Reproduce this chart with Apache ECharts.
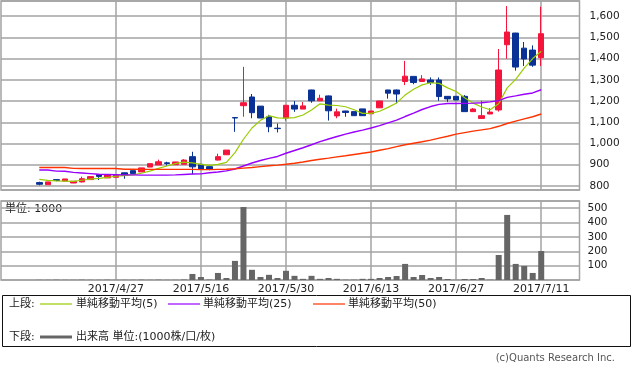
<!DOCTYPE html>
<html><head><meta charset="utf-8">
<script src="https://cdn.jsdelivr.net/npm/echarts@6/dist/echarts.min.js"></script>
<style>html,body{margin:0;padding:0;background:#fff}#c{width:633px;height:370px}</style>
</head><body><div id="c"></div>
<script>
// ---- data ----
const dates = ['2017/4/14','2017/4/17','2017/4/18','2017/4/19','2017/4/20','2017/4/21','2017/4/24','2017/4/25','2017/4/26','2017/4/27',
 '2017/4/28','2017/5/1','2017/5/2','2017/5/8','2017/5/9','2017/5/10','2017/5/11','2017/5/12','2017/5/15','2017/5/16',
 '2017/5/17','2017/5/18','2017/5/19','2017/5/22','2017/5/23','2017/5/24','2017/5/25','2017/5/26','2017/5/29','2017/5/30',
 '2017/5/31','2017/6/1','2017/6/2','2017/6/5','2017/6/6','2017/6/7','2017/6/8','2017/6/9','2017/6/12','2017/6/13',
 '2017/6/14','2017/6/15','2017/6/16','2017/6/19','2017/6/20','2017/6/21','2017/6/22','2017/6/23','2017/6/26','2017/6/27',
 '2017/6/28','2017/6/29','2017/6/30','2017/7/3','2017/7/4','2017/7/5','2017/7/6','2017/7/7','2017/7/10','2017/7/11'];
const padBefore = ['2017/4/10','2017/4/11','2017/4/12','2017/4/13'];
const padAfter = ['2017/7/12','2017/7/13','2017/7/14','2017/7/18'];
const tickDates = ['2017/4/27','2017/5/16','2017/5/30','2017/6/13','2017/6/27','2017/7/11'];

const openP  = [816,806,830,823,814,819,830,853,838,841, 862,872,866,889,899,909,900,902,938,902,
                891,922,947,1122,1178,1219,1176,1126,1072,1120, 1180,1162,1252,1201,1224,1130,1153,1150,1163,1140,
                1168,1252,1252,1292,1316,1292,1299,1299,1222,1222, 1222,1150,1118,1139,1158,1465,1520,1449,1440,1404];
const closeP = [808,819,826,833,822,834,844,845,853,852, 851,858,885,905,914,906,913,922,890,880,
                879,938,969,1120,1192,1145,1120,1079,1070,1180, 1162,1177,1201,1213,1154,1149,1146,1131,1131,1153,
                1200,1237,1233,1317,1287,1304,1287,1221,1210,1205, 1150,1162,1131,1148,1346,1525,1360,1398,1369,1517];
const lowP   = [803,806,822,822,813,817,830,828,838,841, 834,858,866,889,899,896,900,902,855,878,
                874,920,947,1055,1126,1119,1120,1053,1052,1108, 1149,1162,1192,1200,1108,1119,1126,1131,1130,1140,
                1168,1211,1189,1275,1279,1292,1276,1201,1196,1204, 1150,1149,1117,1138,1150,1399,1343,1365,1361,1365];
const highP  = [820,819,832,833,823,844,844,855,853,852, 863,872,885,905,924,914,913,926,961,904,
                891,952,969,1122,1361,1233,1176,1135,1094,1181, 1200,1195,1253,1230,1226,1164,1154,1150,1163,1153,
                1200,1253,1254,1389,1317,1322,1311,1311,1223,1223, 1228,1167,1201,1166,1445,1647,1521,1478,1462,1644];

const ma5  = [831,826,824,823,822,827,832,836,840,846, 849,852,860,870,883,894,905,912,909,902,
              897,902,911,957,1020,1073,1109,1131,1121,1119, 1122,1134,1158,1187,1181,1179,1173,1159,1142,1142,
              1152,1170,1191,1228,1255,1276,1286,1283,1262,1245, 1215,1190,1172,1159,1187,1262,1302,1355,1400,1434];
const ma25 = [875,875,870,869,864,861,858,855,854,853, 852,852,851,851,851,851,852,854,856,857,
              862,866,871,880,894,908,920,930,939,954, 967,980,994,1009,1021,1033,1044,1054,1063,1073,
              1084,1097,1110,1127,1143,1160,1174,1184,1188,1188, 1189,1190,1192,1196,1202,1217,1224,1232,1238,1253];
const ma50 = [887,887,887,887,883,882,882,882,882,882, 879,879,878,878,878,878,878,878,878,877,
              877,878,879,881,884,887,891,895,898,902, 907,913,920,926,931,937,942,948,954,960,
              968,976,985,994,1001,1008,1016,1025,1034,1044, 1051,1058,1064,1070,1081,1094,1105,1116,1126,1139];
const volume = [1,1,2,1,1,2,1,1,2,1, 1,1,2,1,2,1,1,3,42,21,
                3,49,14,133,508,71,21,36,14,64, 29,8,29,8,14,8,2,2,8,8,
                14,21,28,112,21,35,14,21,7,1, 7,7,14,2,174,453,112,98,49,202];

// ---- build ----
const cats = padBefore.concat(dates, padAfter);
const pad = a => padBefore.map(() => '-').concat(a, padAfter.map(() => '-'));
const candles = pad(dates.map((d, i) => [openP[i], closeP[i], lowP[i], highP[i]]));
const tickIdx = new Set(tickDates.map(d => cats.indexOf(d)));
const isTick = i => tickIdx.has(i);

const GRID = '#a3a3a3';
const UP = '#f5143c', DOWN = '#0a3296';
const C5 = '#99cc00', C25 = '#9900ff', C50 = '#ff3300', CVOL = '#666666';
const NUMFONT = 'DejaVu Sans';
const JPFONT = "'DejaVu Sans','Noto Sans CJK JP'";

const chart = echarts.init(document.getElementById('c'), null, {renderer: 'canvas'});
const vSplit = {show: true, interval: (i) => isTick(i), alignWithLabel: true, lineStyle: {color: GRID, width: 1.5}};

const option = {
  animation: false,
  backgroundColor: '#ffffff',
  grid: [
    {left: 1, top: 1, width: 578.5, height: 189, show: true, borderColor: GRID, borderWidth: 1.5, backgroundColor: 'transparent'},
    {left: 1, top: 201, width: 578.5, height: 79, show: true, borderColor: GRID, borderWidth: 1.5, backgroundColor: 'transparent'}
  ],
  xAxis: [
    {type: 'category', gridIndex: 0, data: cats, boundaryGap: true,
     axisLine: {show: false}, axisTick: {show: false}, axisLabel: {show: false}, splitLine: vSplit},
    {type: 'category', gridIndex: 1, data: cats, boundaryGap: true,
     axisLine: {show: false}, axisTick: {show: false},
     axisLabel: {show: true, interval: (i) => isTick(i), margin: 4, color: '#222', fontSize: 11, fontFamily: NUMFONT},
     splitLine: vSplit}
  ],
  yAxis: [
    {type: 'value', gridIndex: 0, position: 'right', min: 781, max: 1671, splitNumber: 9,
     axisLine: {show: false}, axisTick: {show: false},
     axisLabel: {margin: 10, color: '#222', fontSize: 10.5, fontFamily: NUMFONT, showMinLabel: false, showMaxLabel: false,
                 formatter: v => Number(v).toLocaleString('en-US')},
     splitLine: {show: true, lineStyle: {color: GRID, width: 1.5}}},
    {type: 'value', gridIndex: 1, position: 'right', min: 0, max: 550, interval: 100,
     axisLine: {show: false}, axisTick: {show: false},
     axisLabel: {margin: 8, color: '#222', fontSize: 10.5, fontFamily: NUMFONT, showMinLabel: false, showMaxLabel: false},
     splitLine: {show: true, lineStyle: {color: GRID, width: 1.5}}}
  ],
  series: [
    {name: '株価', type: 'candlestick', xAxisIndex: 0, yAxisIndex: 0, data: candles, barWidth: 6,
     itemStyle: {color: UP, color0: DOWN, borderColor: UP, borderColor0: DOWN, borderWidth: 1}},
    {name: '単純移動平均(5)', type: 'line', xAxisIndex: 0, yAxisIndex: 0, data: pad(ma5), showSymbol: false,
     lineStyle: {color: C5, width: 1.2}, itemStyle: {color: C5}},
    {name: '単純移動平均(25)', type: 'line', xAxisIndex: 0, yAxisIndex: 0, data: pad(ma25), showSymbol: false,
     lineStyle: {color: C25, width: 1.4}, itemStyle: {color: C25}},
    {name: '単純移動平均(50)', type: 'line', xAxisIndex: 0, yAxisIndex: 0, data: pad(ma50), showSymbol: false,
     lineStyle: {color: C50, width: 1.4}, itemStyle: {color: C50}},
    {name: '出来高', type: 'bar', xAxisIndex: 1, yAxisIndex: 1, data: pad(volume), barWidth: 6,
     itemStyle: {color: CVOL}}
  ],
  graphic: [
    {type: 'text', left: 5, top: 204, style: {text: '単位: 1000', fill: '#222', font: "11px " + JPFONT}},
    {type: 'rect', shape: {x: 2.5, y: 295.5, width: 628, height: 51}, style: {fill: 'none', stroke: '#111', lineWidth: 1}},
    {type: 'text', x: 9, y: 304, style: {text: '上段:', fill: '#222', font: "11px " + JPFONT, verticalAlign: 'middle'}},
    {type: 'line', shape: {x1: 40, y1: 304, x2: 72, y2: 304}, style: {stroke: C5, lineWidth: 1.2}},
    {type: 'text', x: 76, y: 304, style: {text: '単純移動平均(5)', fill: '#222', font: "11px " + JPFONT, verticalAlign: 'middle'}},
    {type: 'line', shape: {x1: 168, y1: 304, x2: 200, y2: 304}, style: {stroke: C25, lineWidth: 1.2}},
    {type: 'text', x: 203, y: 304, style: {text: '単純移動平均(25)', fill: '#222', font: "11px " + JPFONT, verticalAlign: 'middle'}},
    {type: 'line', shape: {x1: 313, y1: 304, x2: 345, y2: 304}, style: {stroke: C50, lineWidth: 1.2}},
    {type: 'text', x: 348, y: 304, style: {text: '単純移動平均(50)', fill: '#222', font: "11px " + JPFONT, verticalAlign: 'middle'}},
    {type: 'text', x: 9, y: 337, style: {text: '下段:', fill: '#222', font: "11px " + JPFONT, verticalAlign: 'middle'}},
    {type: 'line', shape: {x1: 40, y1: 337, x2: 72, y2: 337}, style: {stroke: CVOL, lineWidth: 3}},
    {type: 'text', x: 76, y: 337, style: {text: '出来高 単位:(1000株/口/枚)', fill: '#222', font: "11px " + JPFONT, verticalAlign: 'middle'}},
    {type: 'text', x: 615, y: 358, style: {text: '(c)Quants Research Inc.', fill: '#555', font: "10px " + JPFONT, align: 'right', verticalAlign: 'middle'}}
  ]
};
chart.setOption(option);
</script>
</body></html>
